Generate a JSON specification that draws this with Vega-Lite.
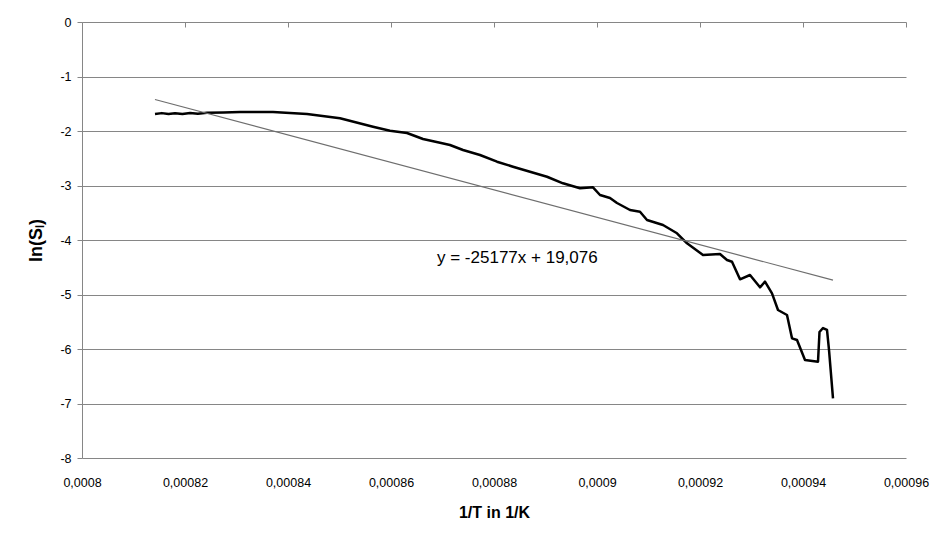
{
  "$schema": "https://vega.github.io/schema/vega-lite/v6.json",
  "width": 824,
  "height": 436,
  "autosize": {"type": "none"},
  "padding": {"left": 82, "top": 22, "right": 26, "bottom": 77},
  "background": "white",
  "config": {"view": {"stroke": null}, "font": "Liberation Sans"},
  "datasets": {
    "curve": [
      {"i": 1, "x": 0.000814175, "y": -1.688},
      {"i": 2, "x": 0.000815500, "y": -1.672},
      {"i": 3, "x": 0.000816800, "y": -1.690},
      {"i": 4, "x": 0.000818058, "y": -1.676},
      {"i": 5, "x": 0.000819500, "y": -1.690},
      {"i": 6, "x": 0.000821000, "y": -1.668},
      {"i": 7, "x": 0.000822500, "y": -1.682},
      {"i": 8, "x": 0.000824272, "y": -1.664},
      {"i": 9, "x": 0.000827500, "y": -1.660},
      {"i": 10, "x": 0.000830680, "y": -1.651},
      {"i": 11, "x": 0.000837087, "y": -1.651},
      {"i": 12, "x": 0.000843689, "y": -1.688},
      {"i": 13, "x": 0.000850097, "y": -1.767},
      {"i": 14, "x": 0.000856505, "y": -1.921},
      {"i": 15, "x": 0.000859806, "y": -1.994},
      {"i": 16, "x": 0.000863107, "y": -2.037},
      {"i": 17, "x": 0.000866214, "y": -2.147},
      {"i": 18, "x": 0.000869515, "y": -2.215},
      {"i": 19, "x": 0.000871456, "y": -2.257},
      {"i": 20, "x": 0.000873981, "y": -2.349},
      {"i": 21, "x": 0.000877282, "y": -2.440},
      {"i": 22, "x": 0.000880583, "y": -2.563},
      {"i": 23, "x": 0.000883689, "y": -2.655},
      {"i": 24, "x": 0.000886990, "y": -2.747},
      {"i": 25, "x": 0.000890291, "y": -2.839},
      {"i": 26, "x": 0.000893398, "y": -2.960},
      {"i": 27, "x": 0.000896699, "y": -3.051},
      {"i": 28, "x": 0.000899223, "y": -3.033},
      {"i": 29, "x": 0.000900583, "y": -3.174},
      {"i": 30, "x": 0.000902524, "y": -3.229},
      {"i": 31, "x": 0.000903883, "y": -3.321},
      {"i": 32, "x": 0.000906408, "y": -3.450},
      {"i": 33, "x": 0.000908349, "y": -3.481},
      {"i": 34, "x": 0.000909709, "y": -3.633},
      {"i": 35, "x": 0.000912816, "y": -3.725},
      {"i": 36, "x": 0.000915534, "y": -3.877},
      {"i": 37, "x": 0.000917476, "y": -4.061},
      {"i": 38, "x": 0.000920583, "y": -4.275},
      {"i": 39, "x": 0.000923883, "y": -4.257},
      {"i": 40, "x": 0.000925243, "y": -4.367},
      {"i": 41, "x": 0.000926214, "y": -4.398},
      {"i": 42, "x": 0.000927767, "y": -4.721},
      {"i": 43, "x": 0.000929709, "y": -4.642},
      {"i": 44, "x": 0.000931650, "y": -4.868},
      {"i": 45, "x": 0.000932621, "y": -4.765},
      {"i": 46, "x": 0.000933981, "y": -4.978},
      {"i": 47, "x": 0.000935146, "y": -5.284},
      {"i": 48, "x": 0.000936893, "y": -5.376},
      {"i": 49, "x": 0.000937864, "y": -5.804},
      {"i": 50, "x": 0.000938835, "y": -5.835},
      {"i": 51, "x": 0.000940388, "y": -6.202},
      {"i": 52, "x": 0.000942913, "y": -6.233},
      {"i": 53, "x": 0.000943204, "y": -5.688},
      {"i": 54, "x": 0.000943883, "y": -5.615},
      {"i": 55, "x": 0.000944660, "y": -5.651},
      {"i": 56, "x": 0.000945049, "y": -6.018},
      {"i": 57, "x": 0.000945825, "y": -6.905}
    ],
    "trend": [
      {"x": 0.000814175, "y": -1.4225},
      {"x": 0.000945825, "y": -4.737}
    ],
    "label": [
      {"x": 0.000868932, "y": -4.33, "text": "y = -25177x + 19,076"}
    ]
  },
  "resolve": {"axis": {"x": "independent"}},
  "layer": [
    {
      "data": {"name": "curve"},
      "mark": {"type": "line", "color": "#000000", "strokeWidth": 2.5, "strokeJoin": "round"},
      "encoding": {
        "x": {
          "field": "x", "type": "quantitative",
          "scale": {"domain": [0.0008, 0.00096], "nice": false, "zero": false},
          "axis": {
            "orient": "bottom",
            "values": [0.0008, 0.00082, 0.00084, 0.00086, 0.00088, 0.0009, 0.00092, 0.00094, 0.00096],
            "labelExpr": "replace(format(datum.value, '.5~f'), '.', ',')",
            "labelFlush": false,
            "grid": false, "domain": false, "ticks": false,
            "labelPadding": 18, "labelFontSize": 12.5, "labelColor": "#000000",
            "labelFont": "Liberation Sans",
            "title": "1/T in 1/K", "titleFontSize": 16, "titleFontWeight": "bold",
            "titleColor": "#000000", "titlePadding": 16, "titleFont": "Liberation Sans"
          }
        },
        "y": {
          "field": "y", "type": "quantitative",
          "scale": {"domain": [-8, 0], "nice": false, "zero": false},
          "axis": {
            "values": [-8, -7, -6, -5, -4, -3, -2, -1, 0],
            "labelExpr": "datum.value + ''",
            "labelFlush": false,
            "grid": true, "gridColor": "#868686", "gridWidth": 1, "gridOpacity": 1,
            "domain": true, "domainColor": "#868686", "domainWidth": 1,
            "ticks": true, "tickColor": "#868686", "tickSize": 5, "tickWidth": 1,
            "labelPadding": 6, "labelFontSize": 12.5, "labelColor": "#000000",
            "labelFont": "Liberation Sans",
            "title": "ln(S\u2097)", "titleFontSize": 18, "titleFontWeight": "bold",
            "titleColor": "#000000", "titlePadding": 14, "titleFont": "Liberation Sans"
          }
        },
        "order": {"field": "i", "type": "quantitative"}
      }
    },
    {
      "data": {"name": "trend"},
      "mark": {"type": "line", "color": "#6e6e6e", "strokeWidth": 1.2},
      "encoding": {
        "x": {
          "field": "x", "type": "quantitative",
          "axis": {
            "orient": "top",
            "values": [0.0008, 0.00082, 0.00084, 0.00086, 0.00088, 0.0009, 0.00092, 0.00094, 0.00096],
            "labels": false, "grid": false, "domain": false,
            "ticks": true, "tickColor": "#868686", "tickSize": -5, "tickWidth": 1,
            "title": null
          }
        },
        "y": {"field": "y", "type": "quantitative"}
      }
    },
    {
      "data": {"name": "label"},
      "mark": {"type": "text", "align": "left", "baseline": "middle", "fontSize": 17, "font": "Liberation Sans", "color": "#000000"},
      "encoding": {
        "x": {"field": "x", "type": "quantitative", "axis": null},
        "y": {"field": "y", "type": "quantitative"},
        "text": {"field": "text"}
      }
    }
  ]
}
